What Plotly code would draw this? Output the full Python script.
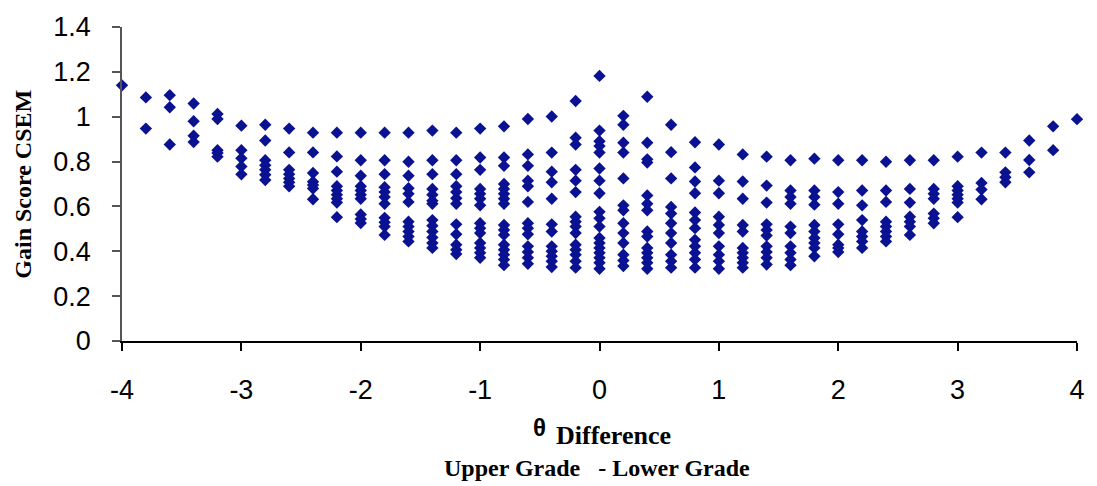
import plotly.graph_objects as go

# Ability difference (upper grade minus lower grade), one column per 0.2 step
theta_diff = [round(-4.0 + 0.2 * i, 1) for i in range(41)]

# Gain score CSEM values observed at each theta difference
gain_csem = [
    [1.14],
    [1.086, 0.947],
    [1.096, 1.042, 0.876],
    [1.059, 0.98, 0.915, 0.887],
    [1.012, 0.99, 0.851, 0.838, 0.822],
    [0.96, 0.851, 0.815, 0.778, 0.743],
    [0.964, 0.894, 0.806, 0.784, 0.763, 0.741, 0.718],
    [0.947, 0.841, 0.763, 0.744, 0.725, 0.708, 0.69],
    [0.929, 0.841, 0.749, 0.71, 0.695, 0.68, 0.632],
    [0.929, 0.823, 0.755, 0.69, 0.671, 0.652, 0.634, 0.617, 0.552],
    [0.929, 0.806, 0.737, 0.69, 0.671, 0.652, 0.634, 0.564, 0.544, 0.526],
    [0.929, 0.806, 0.744, 0.686, 0.664, 0.642, 0.612, 0.549, 0.529, 0.51, 0.473],
    [0.929, 0.799, 0.737, 0.681, 0.656, 0.62, 0.532, 0.51, 0.488, 0.466, 0.444],
    [0.938, 0.806, 0.744, 0.678, 0.652, 0.625, 0.612, 0.539, 0.514, 0.488, 0.462, 0.437, 0.415],
    [0.929, 0.806, 0.744, 0.69, 0.664, 0.637, 0.612, 0.52, 0.476, 0.429, 0.407, 0.388],
    [0.947, 0.818, 0.763, 0.678, 0.656, 0.634, 0.605, 0.525, 0.503, 0.481, 0.437, 0.415, 0.393, 0.371],
    [0.957, 0.818, 0.781, 0.7, 0.678, 0.656, 0.634, 0.612, 0.517, 0.495, 0.473, 0.429, 0.407, 0.385, 0.363, 0.338],
    [0.99, 0.832, 0.781, 0.715, 0.69, 0.62, 0.525, 0.503, 0.476, 0.422, 0.397, 0.371, 0.344],
    [1.001, 0.84, 0.755, 0.708, 0.634, 0.52, 0.488, 0.422, 0.4, 0.378, 0.356, 0.33],
    [1.07, 0.906, 0.876, 0.763, 0.715, 0.664, 0.554, 0.532, 0.51, 0.481, 0.429, 0.407, 0.385, 0.356, 0.327],
    [1.182, 0.938, 0.891, 0.869, 0.84, 0.769, 0.715, 0.659, 0.576, 0.547, 0.51, 0.459, 0.437, 0.415, 0.393, 0.371, 0.349, 0.322],
    [1.004, 0.964, 0.884, 0.84, 0.725, 0.605, 0.583, 0.525, 0.481, 0.437, 0.385, 0.359, 0.334],
    [1.089, 0.884, 0.81, 0.796, 0.649, 0.612, 0.583, 0.488, 0.466, 0.415, 0.393, 0.371, 0.349, 0.322],
    [0.964, 0.842, 0.725, 0.598, 0.568, 0.525, 0.481, 0.437, 0.385, 0.356, 0.327],
    [0.886, 0.774, 0.711, 0.659, 0.573, 0.539, 0.503, 0.451, 0.422, 0.393, 0.363, 0.327],
    [0.876, 0.715, 0.659, 0.554, 0.517, 0.481, 0.422, 0.385, 0.356, 0.322],
    [0.832, 0.711, 0.634, 0.517, 0.488, 0.415, 0.393, 0.371, 0.349, 0.327],
    [0.822, 0.693, 0.617, 0.52, 0.495, 0.47, 0.422, 0.397, 0.371, 0.341],
    [0.806, 0.671, 0.642, 0.612, 0.51, 0.481, 0.422, 0.393, 0.363, 0.338],
    [0.813, 0.671, 0.642, 0.608, 0.517, 0.488, 0.459, 0.437, 0.415, 0.378],
    [0.806, 0.664, 0.612, 0.52, 0.476, 0.429, 0.415, 0.397],
    [0.806, 0.671, 0.605, 0.539, 0.488, 0.466, 0.444, 0.415],
    [0.799, 0.671, 0.62, 0.532, 0.51, 0.488, 0.466, 0.444],
    [0.806, 0.678, 0.617, 0.554, 0.532, 0.51, 0.473],
    [0.806, 0.678, 0.656, 0.634, 0.568, 0.547, 0.525],
    [0.822, 0.69, 0.671, 0.652, 0.634, 0.617, 0.552],
    [0.84, 0.705, 0.675, 0.632],
    [0.84, 0.752, 0.73, 0.708],
    [0.894, 0.807, 0.752],
    [0.957, 0.851],
    [0.989],
]

x_ticks = [-4, -3, -2, -1, 0, 1, 2, 3, 4]
x_tick_text = ["-4", "-3", "-2", "-1", "0", "1", "2", "3", "4"]
y_ticks = [0, 0.2, 0.4, 0.6, 0.8, 1.0, 1.2, 1.4]
y_tick_text = ["0", "0.2", "0.4", "0.6", "0.8", "1", "1.2", "1.4"]

xs, ys = [], []
for t, vals in zip(theta_diff, gain_csem):
    for v in vals:
        xs.append(t)
        ys.append(v)

fig = go.Figure()
fig.add_trace(go.Scatter(
    x=xs, y=ys, mode="markers",
    marker=dict(symbol="diamond", size=9.5, color="#0a1291", line=dict(width=0)),
    cliponaxis=False, showlegend=False,
))

sans = "Liberation Sans, Arial, sans-serif"
serif = "Liberation Serif, Times New Roman, serif"

fig.update_layout(
    width=1097, height=486,
    margin=dict(l=122, r=12, t=20, b=145),
    paper_bgcolor="white", plot_bgcolor="white",
    xaxis=dict(
        range=[-4, 4], tickvals=x_ticks, ticktext=x_tick_text,
        showgrid=False, zeroline=False, showline=True, linecolor="black", linewidth=1.5,
        ticks="outside", ticklen=8, tickcolor="black", tickwidth=1.5,
        tickfont=dict(family=sans, size=27, color="black"), ticklabelstandoff=16,
    ),
    yaxis=dict(
        range=[0, 1.4], tickvals=y_ticks, ticktext=y_tick_text,
        showgrid=False, zeroline=False, showline=True, linecolor="#555555", linewidth=1.5,
        ticks="outside", ticklen=8, tickcolor="#555555", tickwidth=1.5,
        tickfont=dict(family=sans, size=27, color="black"), ticklabelstandoff=16,
    ),
    annotations=[
        dict(text="<b>Gain Score CSEM</b>", textangle=-90, xref="paper", yref="paper",
             x=-0.104, y=0.5, xanchor="center", yanchor="middle", showarrow=False,
             font=dict(family=serif, size=24, color="black")),
        dict(text="<b>θ</b>", xref="paper", yref="paper", x=0.437, y=-0.276,
             xanchor="center", yanchor="middle", showarrow=False,
             font=dict(family=sans, size=24, color="black")),
        dict(text="<b>Difference</b>", xref="paper", yref="paper", x=0.4528, y=-0.301,
             xanchor="left", yanchor="middle", showarrow=False,
             font=dict(family=serif, size=26, color="black")),
        dict(text="<b>Upper Grade   - Lower Grade</b>", xref="paper", yref="paper",
             x=0.497, y=-0.404, xanchor="center", yanchor="middle", showarrow=False,
             font=dict(family=serif, size=24, color="black")),
    ],
)

fig.write_html("out.html")
